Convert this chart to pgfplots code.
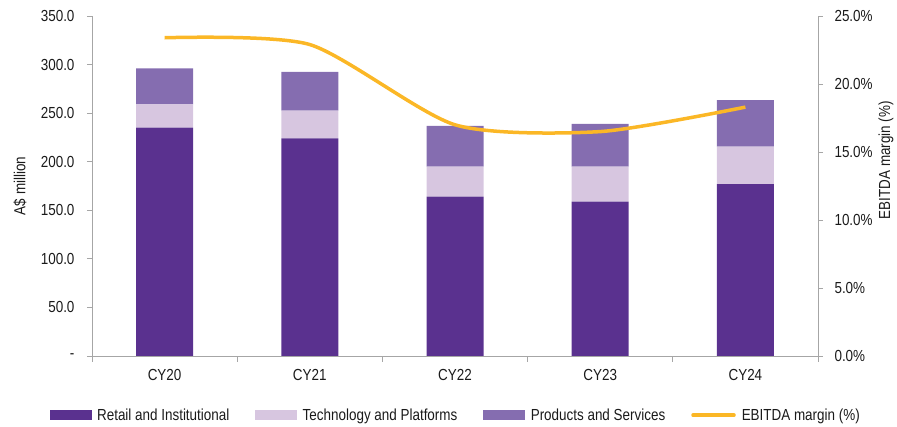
\documentclass[border=0pt]{standalone}
\usepackage{fontspec}
\setmainfont{Liberation Sans}[FakeStretch=0.84]
\usepackage{pgfplots}
\pgfplotsset{compat=1.18}
\definecolor{retail}{HTML}{5A318F}
\definecolor{tech}{HTML}{D7C6E0}
\definecolor{prod}{HTML}{856DB0}
\definecolor{ebitda}{HTML}{FBB726}
\definecolor{axgray}{HTML}{A6A6A6}
\definecolor{txt}{HTML}{1A1A1A}
\pgfplotsset{every axis/.append style={font=\fontsize{16}{19}\selectfont, text=txt}}
\begin{document}
\begin{tikzpicture}
\path[use as bounding box] (0,0) rectangle (897pt,427pt);
\begin{axis}[
  at={(92pt,71pt)}, anchor=south west,
  scale only axis, width=726pt, height=340pt,
  ybar stacked, bar width=57pt,
  xmin=-0.5, xmax=4.5, ymin=0, ymax=350,
  axis x line*=bottom, axis y line*=left,
  axis line style={axgray, line width=0.8pt, -},
  xtick={0,1,2,3,4},
  xticklabels={CY20,CY21,CY22,CY23,CY24},
  major x tick style={draw=none},
  minor xtick={-0.5,0.5,1.5,2.5,3.5,4.5},
  minor x tick style={axgray, line width=0.8pt},
  minor tick length=6pt,
  tick align=outside,
  xticklabel style={yshift=-5pt},
  ytick={0,50,100,150,200,250,300,350},
  yticklabels={-,50.0,100.0,150.0,200.0,250.0,300.0,350.0},
  y tick style={axgray, line width=0.8pt},
  major tick length=5pt,
  yticklabel style={xshift=-9pt},
  ylabel={A\$ million},
  ylabel style={at={(axis description cs:0,0.5)}, yshift=72pt, anchor=center},
]
\addplot[fill=retail, draw=none] coordinates {(0,235) (1,224) (2,164) (3,159) (4,177)};
\addplot[fill=tech, draw=none] coordinates {(0,24) (1,28.5) (2,31) (3,36) (4,38.5)};
\addplot[fill=prod, draw=none] coordinates {(0,37) (1,40) (2,42) (3,44) (4,48)};
\end{axis}
\begin{axis}[
  at={(92pt,71pt)}, anchor=south west,
  scale only axis, width=726pt, height=340pt,
  xmin=-0.5, xmax=4.5, ymin=0, ymax=25,
  hide x axis,
  axis y line*=right,
  axis line style={axgray, line width=0.8pt, -},
  ytick={0,5,10,15,20,25},
  yticklabels={0.0\%,5.0\%,10.0\%,15.0\%,20.0\%,25.0\%},
  y tick style={axgray, line width=0.8pt},
  tick align=outside, major tick length=5pt,
  yticklabel style={xshift=8pt},
  ylabel={EBITDA margin (\%)},
  ylabel style={at={(axis description cs:1,0.576)}, yshift=-68pt, anchor=center},
  legend columns=4,
  legend style={at={(axis description cs:0.501,-0.174)}, anchor=center, draw=none, fill=none,
    /tikz/every even column/.append style={column sep=24pt},
    /tikz/every odd column/.append style={column sep=4pt}, inner sep=0pt},
  legend cell align=left,
]
\addlegendimage{legend image code/.code={\fill[retail] (0pt,-4.5pt) rectangle (41pt,4.5pt);}}
\addlegendentry{Retail and Institutional}
\addlegendimage{legend image code/.code={\fill[tech] (0pt,-4.5pt) rectangle (41pt,4.5pt);}}
\addlegendentry{Technology and Platforms}
\addlegendimage{legend image code/.code={\fill[prod] (0pt,-4.5pt) rectangle (41pt,4.5pt);}}
\addlegendentry{Products and Services}
\addplot[ebitda, line width=3.5pt, smooth, tension=0.42, no markers,
  legend image code/.code={\draw[ebitda, line width=3.5pt, line cap=round] (1pt,0pt) -- (42pt,0pt);}]
  coordinates {(0,23.4) (1,22.9) (2,17.0) (3,16.5) (4,18.3)};
\addlegendentry{EBITDA margin (\%)}
\end{axis}
\end{tikzpicture}
\end{document}
